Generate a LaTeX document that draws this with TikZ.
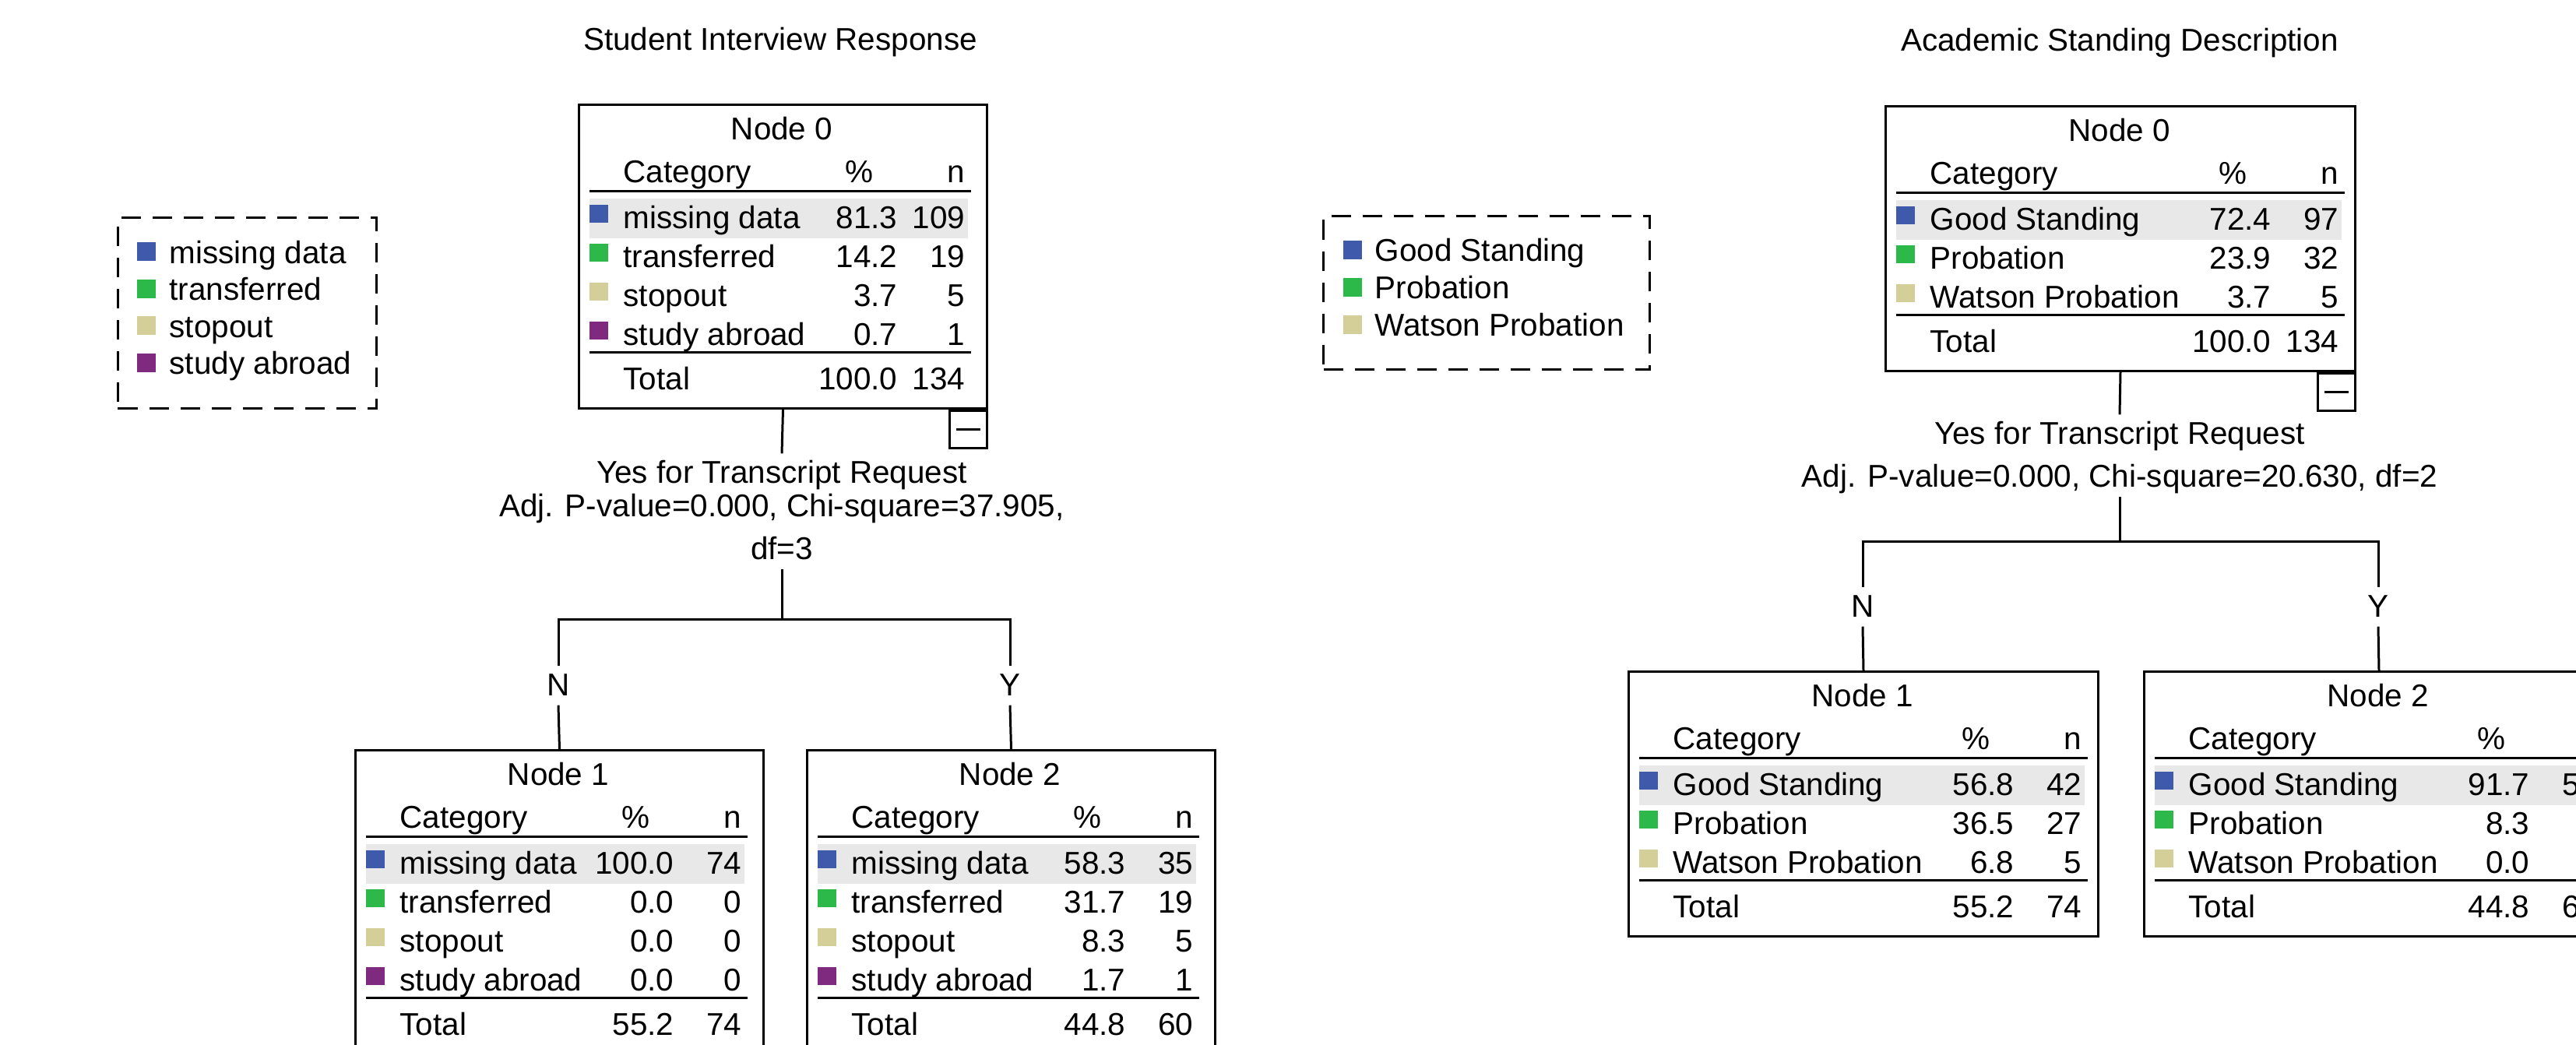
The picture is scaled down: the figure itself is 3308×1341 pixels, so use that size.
\documentclass[tikz,border=0pt]{standalone}
\usepackage{fontspec}
\setmainfont{Liberation Sans}
\usetikzlibrary{positioning}

\definecolor{catblue}{HTML}{3F5AAA}
\definecolor{catgreen}{HTML}{2DB84A}
\definecolor{catbeige}{HTML}{D4CE99}
\definecolor{catpurple}{HTML}{7F2A7E}
\definecolor{hilite}{HTML}{E8E8E8}

\tikzset{
	txt/.style={font=\fontsize{11.5}{14}\selectfont, inner sep=0pt},
	boxline/.style={line width=0.85pt},
	treenode/.style={draw, boxline, inner sep=0pt, anchor=north west},
	legendbox/.style={draw, line width=0.85pt, dash pattern=on 0.25cm off 0.15cm, inner sep=0pt, anchor=north west},
	splitlabel/.style={txt, inner sep=0.07cm, text height=0.3cm, text depth=0.05cm, anchor=base},
}

% tree node: name, position, title, rows, total %, total n
\newcommand{\treebox}[6]{%
	\node[treenode, minimum width=\boxw*0.01cm, minimum height={(190+50*\nrows)*0.01cm}] (#1) at (#2) {};
	\begin{scope}[shift={(#1.north west)}]
		\node[txt, anchor=base] at (\boxw/2, 46) {#3};
		\node[txt, anchor=base west] at (58, 101) {Category};
		\node[txt, anchor=base] at (\pcol-50, 101) {\%};
		\node[txt, anchor=base east] at (\ncol, 101) {n};
		\draw[boxline] (15, 112) -- (\rulend, 112);
		\foreach \col/\lab/\p/\n [count=\i from 0] in {#4} {
			\pgfmathsetmacro{\yb}{160+50*\i}
			\ifnum\i=0 \fill[hilite] (15, \yb-38) rectangle (\rulend-4, \yb+13);\fi
			\fill[\col] (15, \yb-30) rectangle (39, \yb-7);
			\node[txt, anchor=base west] at (58, \yb) {\lab};
			\node[txt, anchor=base east] at (\pcol, \yb) {\p};
			\node[txt, anchor=base east] at (\ncol, \yb) {\n};
		}
		\draw[boxline] (15, {169+50*(\nrows-1)}) -- (\rulend, {169+50*(\nrows-1)});
		\node[txt, anchor=base west] at (58, {217+50*(\nrows-1)}) {Total};
		\node[txt, anchor=base east] at (\pcol, {217+50*(\nrows-1)}) {#5};
		\node[txt, anchor=base east] at (\ncol, {217+50*(\nrows-1)}) {#6};
	\end{scope}}

% collapse box under a node
\newcommand{\togglebox}[1]{%
	\node[draw, boxline, minimum size=0.48cm, inner sep=0pt, anchor=north east] (#1-toggle) at (#1.south east) {};
	\draw[boxline] ([xshift=0.1cm]#1-toggle.west) -- ([xshift=-0.1cm]#1-toggle.east);}

\begin{document}
\begin{tikzpicture}[x=0.01cm, y=-0.01cm]
		%%%%% START %%%%%
		\useasboundingbox (0, 0) rectangle (3308, 1341);
		\clip (0, 0) rectangle (3308, 1341);
		\fill[white] (0, 0) rectangle (3308, 1341);
		
		%%%%% LEFT TREE %%%%%
		\node[txt, anchor=base] (titleL) at (1002, 64) {Student Interview Response};
		
		\node[legendbox, minimum width=3.32cm, minimum height=2.45cm] (legendL) at (150, 278) {};
		\begin{scope}[shift={(legendL.north west)}]
			\foreach \col/\lab [count=\i from 0] in {catblue/missing data, catgreen/transferred, catbeige/stopout, catpurple/study abroad} {
				\pgfmathsetmacro{\yb}{60+47.5*\i}
				\fill[\col] (26, \yb-27) rectangle (50, \yb-3);
				\node[txt, anchor=base west] at (67, \yb) {\lab};
			}
		\end{scope}
		
		\begin{scope}
			\def\boxw{524}\def\nrows{4}\def\pcol{411}\def\ncol{498}\def\rulend{505}
			\treebox{treeL0}{742, 133}{Node 0}{catblue/missing data/81.3/109, catgreen/transferred/14.2/19, catbeige/stopout/3.7/5, catpurple/study abroad/0.7/1}{100.0}{134}
			\treebox{treeL1}{455, 962}{Node 1}{catblue/missing data/100.0/74, catgreen/transferred/0.0/0, catbeige/stopout/0.0/0, catpurple/study abroad/0.0/0}{55.2}{74}
			\treebox{treeL2}{1035, 962}{Node 2}{catblue/missing data/58.3/35, catgreen/transferred/31.7/19, catbeige/stopout/8.3/5, catpurple/study abroad/1.7/1}{44.8}{60}
		\end{scope}
		\togglebox{treeL0}
		
		\node[splitlabel] (ruleL1) at (1004, 620) {Yes for Transcript Request};
		\node[splitlabel] (ruleL2) at (1004, 663) {Adj. P-value=0.000, Chi-square=37.905,};
		\node[splitlabel] (ruleL3) at (1004, 718) {df=3};
		\coordinate (forkL) at (1004, 795);
		\node[splitlabel] (edgeLN) at (717, 893) {N};
		\node[splitlabel] (edgeLY) at (1297, 893) {Y};
		
		\draw[boxline] (treeL0.south) -- (ruleL1.north);
		\draw[boxline] (ruleL3.south) -- (forkL);
		\draw[boxline] (edgeLN.north) |- (forkL) -| (edgeLY.north);
		\draw[boxline] (edgeLN.south) -- (treeL1.north);
		\draw[boxline] (edgeLY.south) -- (treeL2.north);
		
		%%%%% RIGHT TREE %%%%%
		\node[txt, anchor=base] (titleR) at (2722, 65) {Academic Standing Description};
		
		\node[legendbox, minimum width=4.19cm, minimum height=1.97cm] (legendR) at (1698, 276) {};
		\begin{scope}[shift={(legendR.north west)}]
			\foreach \col/\lab [count=\i from 0] in {catblue/Good Standing, catgreen/Probation, catbeige/Watson Probation} {
				\pgfmathsetmacro{\yb}{59.5+48*\i}
				\fill[\col] (27, \yb-27) rectangle (51, \yb-3);
				\node[txt, anchor=base west] at (67, \yb) {\lab};
			}
		\end{scope}
		
		\begin{scope}
			\def\boxw{603}\def\nrows{3}\def\pcol{497}\def\ncol{584}\def\rulend{591}
			\treebox{treeR0}{2420, 135}{Node 0}{catblue/Good Standing/72.4/97, catgreen/Probation/23.9/32, catbeige/Watson Probation/3.7/5}{100.0}{134}
			\treebox{treeR1}{2090, 861}{Node 1}{catblue/Good Standing/56.8/42, catgreen/Probation/36.5/27, catbeige/Watson Probation/6.8/5}{55.2}{74}
			\treebox{treeR2}{2752, 861}{Node 2}{catblue/Good Standing/91.7/55, catgreen/Probation/8.3/5, catbeige/Watson Probation/0.0/0}{44.8}{60}
		\end{scope}
		\togglebox{treeR0}
		
		\node[splitlabel] (ruleR1) at (2722, 570) {Yes for Transcript Request};
		\node[splitlabel] (ruleR2) at (2722, 625) {Adj. P-value=0.000, Chi-square=20.630, df=2};
		\coordinate (forkR) at (2722, 695);
		\node[splitlabel] (edgeRN) at (2392, 792) {N};
		\node[splitlabel] (edgeRY) at (3054, 792) {Y};
		
		\draw[boxline] (treeR0.south) -- (ruleR1.north);
		\draw[boxline] (ruleR2.south) -- (forkR);
		\draw[boxline] (edgeRN.north) |- (forkR) -| (edgeRY.north);
		\draw[boxline] (edgeRN.south) -- (treeR1.north);
		\draw[boxline] (edgeRY.south) -- (treeR2.north);
		
		%%%%% END %%%%%
\end{tikzpicture}
\end{document}
